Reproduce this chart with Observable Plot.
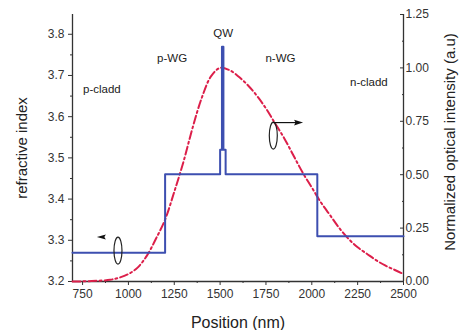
<!DOCTYPE html>
<html><head><meta charset="utf-8">
<script src="https://cdn.jsdelivr.net/npm/d3@7"></script>
<script src="https://cdn.jsdelivr.net/npm/@observablehq/plot@0.6"></script>
<style>body{margin:0;background:#fff}</style>
</head><body><div id="chart"></div>
<script>
// Refractive index profile (step outline)
const indexPos = [695, 1200, 1200, 1500, 1500, 1510, 1510, 1518, 1518, 1530, 1530, 2030, 2030, 2500];
const indexVal = [3.27, 3.27, 3.46, 3.46, 3.52, 3.52, 3.77, 3.77, 3.52, 3.52, 3.46, 3.46, 3.31, 3.31];
// Normalized optical intensity
const intensityPos = [695, 800, 900, 950, 1000, 1050, 1100, 1150, 1200, 1250, 1300, 1350, 1400, 1450, 1500, 1550, 1600, 1650, 1700, 1750, 1800, 1850, 1900, 1950, 2000, 2050, 2100, 2150, 2200, 2250, 2300, 2350, 2400, 2450, 2500];
const intensityVal = [0, 0.002, 0.008, 0.018, 0.035, 0.065, 0.12, 0.2, 0.29, 0.42, 0.56, 0.72, 0.86, 0.96, 1.0, 0.99, 0.96, 0.92, 0.87, 0.81, 0.74, 0.67, 0.59, 0.51, 0.44, 0.37, 0.31, 0.25, 0.2, 0.16, 0.13, 0.1, 0.075, 0.055, 0.035];
// Ticks
const xTicks = [750, 1000, 1250, 1500, 1750, 2000, 2250, 2500];
const xMinor = [875, 1125, 1375, 1625, 1875, 2125, 2375];
const yLeftTicks = [3.2, 3.3, 3.4, 3.5, 3.6, 3.7, 3.8];
const yLeftMinor = [3.25, 3.35, 3.45, 3.55, 3.65, 3.75];
const yRightTicks = [0, 0.25, 0.5, 0.75, 1.0, 1.25];
const yRightMinor = [0.125, 0.375, 0.625, 0.875, 1.125];
// Region labels
const regionLabels = ["p-cladd", "p-WG", "QW", "n-WG", "n-cladd"];
const regionPos = [855, 1238, 1517, 1829, 2311];
const regionVal = [3.666, 3.741, 3.802, 3.741, 3.683];
// Ellipse markers: [position, value on own axis]
const leftMarker = {pos: 943, index: 3.275, arrowPos: 855, arrowIndex: 3.308};
const rightMarker = {pos: 1790, intensity: 0.683, arrowStart: 1790, arrowEnd: 1915, headPos: 1925, arrowIntensity: 0.744};

const yMin = 3.2, yMax = 3.848, iMax = 1.25;
const k = (yMax - yMin) / iMax;
const toY = v => yMin + v * k;
const fromY = y => (y - yMin) / k;

const profile = indexPos.map((x, i) => ({x, y: indexVal[i]}));
const intensity = intensityPos.map((x, i) => ({x, y: toY(intensityVal[i])}));
const regions = regionLabels.map((t, i) => ({t, x: regionPos[i], y: regionVal[i]}));

const K = 0.5523;
const ellipse = {draw(ctx) {
  const rx = 4, ry = 13.5;
  ctx.moveTo(rx, 0);
  ctx.bezierCurveTo(rx, ry * K, rx * K, ry, 0, ry);
  ctx.bezierCurveTo(-rx * K, ry, -rx, ry * K, -rx, 0);
  ctx.bezierCurveTo(-rx, -ry * K, -rx * K, -ry, 0, -ry);
  ctx.bezierCurveTo(rx * K, -ry, rx, -ry * K, rx, 0);
  ctx.closePath();
}};
const headLeft = {draw(ctx) {
  ctx.moveTo(-5, 0); ctx.lineTo(4, -2.6); ctx.lineTo(2.5, 0); ctx.lineTo(4, 2.6); ctx.closePath();
}};
const headRight = {draw(ctx) {
  ctx.moveTo(5, 0); ctx.lineTo(-4, -2.8); ctx.lineTo(-2.5, 0); ctx.lineTo(-4, 2.8); ctx.closePath();
}};

const axisColor = "#333";
const chart = Plot.plot({
  width: 462, height: 330,
  marginLeft: 72, marginRight: 59, marginTop: 14, marginBottom: 49,
  style: {fontFamily: "'Liberation Sans', Arial, sans-serif", fontSize: "12px", color: "#333", background: "#fff"},
  x: {domain: [695, 2500]},
  y: {domain: [yMin, yMax]},
  marks: [
    Plot.axisX(xTicks, {tickSize: 4, tickPadding: 4, tickFormat: d => String(d), fontSize: 12, label: null, stroke: axisColor}),
    Plot.axisX(xMinor, {tickSize: 2, tickFormat: () => "", label: null, stroke: axisColor}),
    Plot.axisY(yLeftTicks, {tickSize: 4, tickPadding: 4, tickFormat: d => d.toFixed(1), fontSize: 12, label: null, stroke: axisColor}),
    Plot.axisY(yLeftMinor, {tickSize: 2, tickFormat: () => "", label: null, stroke: axisColor}),
    Plot.axisY(yRightTicks.map(toY), {anchor: "right", tickSize: -4, tickPadding: 6, tickFormat: v => fromY(v).toFixed(2), fontSize: 12, label: null, stroke: axisColor}),
    Plot.axisY(yRightMinor.map(toY), {anchor: "right", tickSize: -2, tickFormat: () => "", label: null, stroke: axisColor}),
    Plot.ruleX([695], {stroke: axisColor, strokeWidth: 1.3}),
    Plot.ruleX([2500], {stroke: axisColor, strokeWidth: 1.3}),
    Plot.ruleY([yMin], {stroke: axisColor, strokeWidth: 1.3}),
    Plot.line(intensity, {x: "x", y: "y", stroke: "#dc1f4a", strokeWidth: 2, strokeDasharray: "8,3,2,3", curve: "catmull-rom"}),
    Plot.line(profile, {x: "x", y: "y", stroke: "#3d4fb0", strokeWidth: 2}),
    Plot.text(regions, {x: "x", y: "y", text: "t", fontSize: 11.5, fill: "#222"}),
    Plot.dot([leftMarker], {x: "pos", y: "index", symbol: ellipse, stroke: "#222", fill: "none", strokeWidth: 1.2}),
    Plot.dot([leftMarker], {x: "arrowPos", y: "arrowIndex", symbol: headLeft, fill: "#111", stroke: "none"}),
    Plot.dot([rightMarker], {x: "pos", y: d => toY(d.intensity), symbol: ellipse, stroke: "#222", fill: "none", strokeWidth: 1.2}),
    Plot.link([rightMarker], {x1: "arrowStart", x2: "arrowEnd", y1: d => toY(d.arrowIntensity), y2: d => toY(d.arrowIntensity), stroke: "#111", strokeWidth: 1.2}),
    Plot.dot([rightMarker], {x: "headPos", y: d => toY(d.arrowIntensity), symbol: headRight, fill: "#111", stroke: "none"}),
    Plot.text(["refractive index"], {frameAnchor: "left", textAnchor: "middle", lineAnchor: "middle", dx: -50, rotate: -90, fontSize: 15, fill: "#222"}),
    Plot.text(["Normalized optical intensity (a.u)"], {frameAnchor: "right", textAnchor: "middle", lineAnchor: "middle", dx: 47, dy: -6, rotate: -90, fontSize: 15, fill: "#222"}),
    Plot.text(["Position (nm)"], {frameAnchor: "bottom", textAnchor: "middle", lineAnchor: "middle", dy: 41, fontSize: 16, fill: "#222"})
  ]
});
document.getElementById("chart").append(chart);
</script>
</body></html>
